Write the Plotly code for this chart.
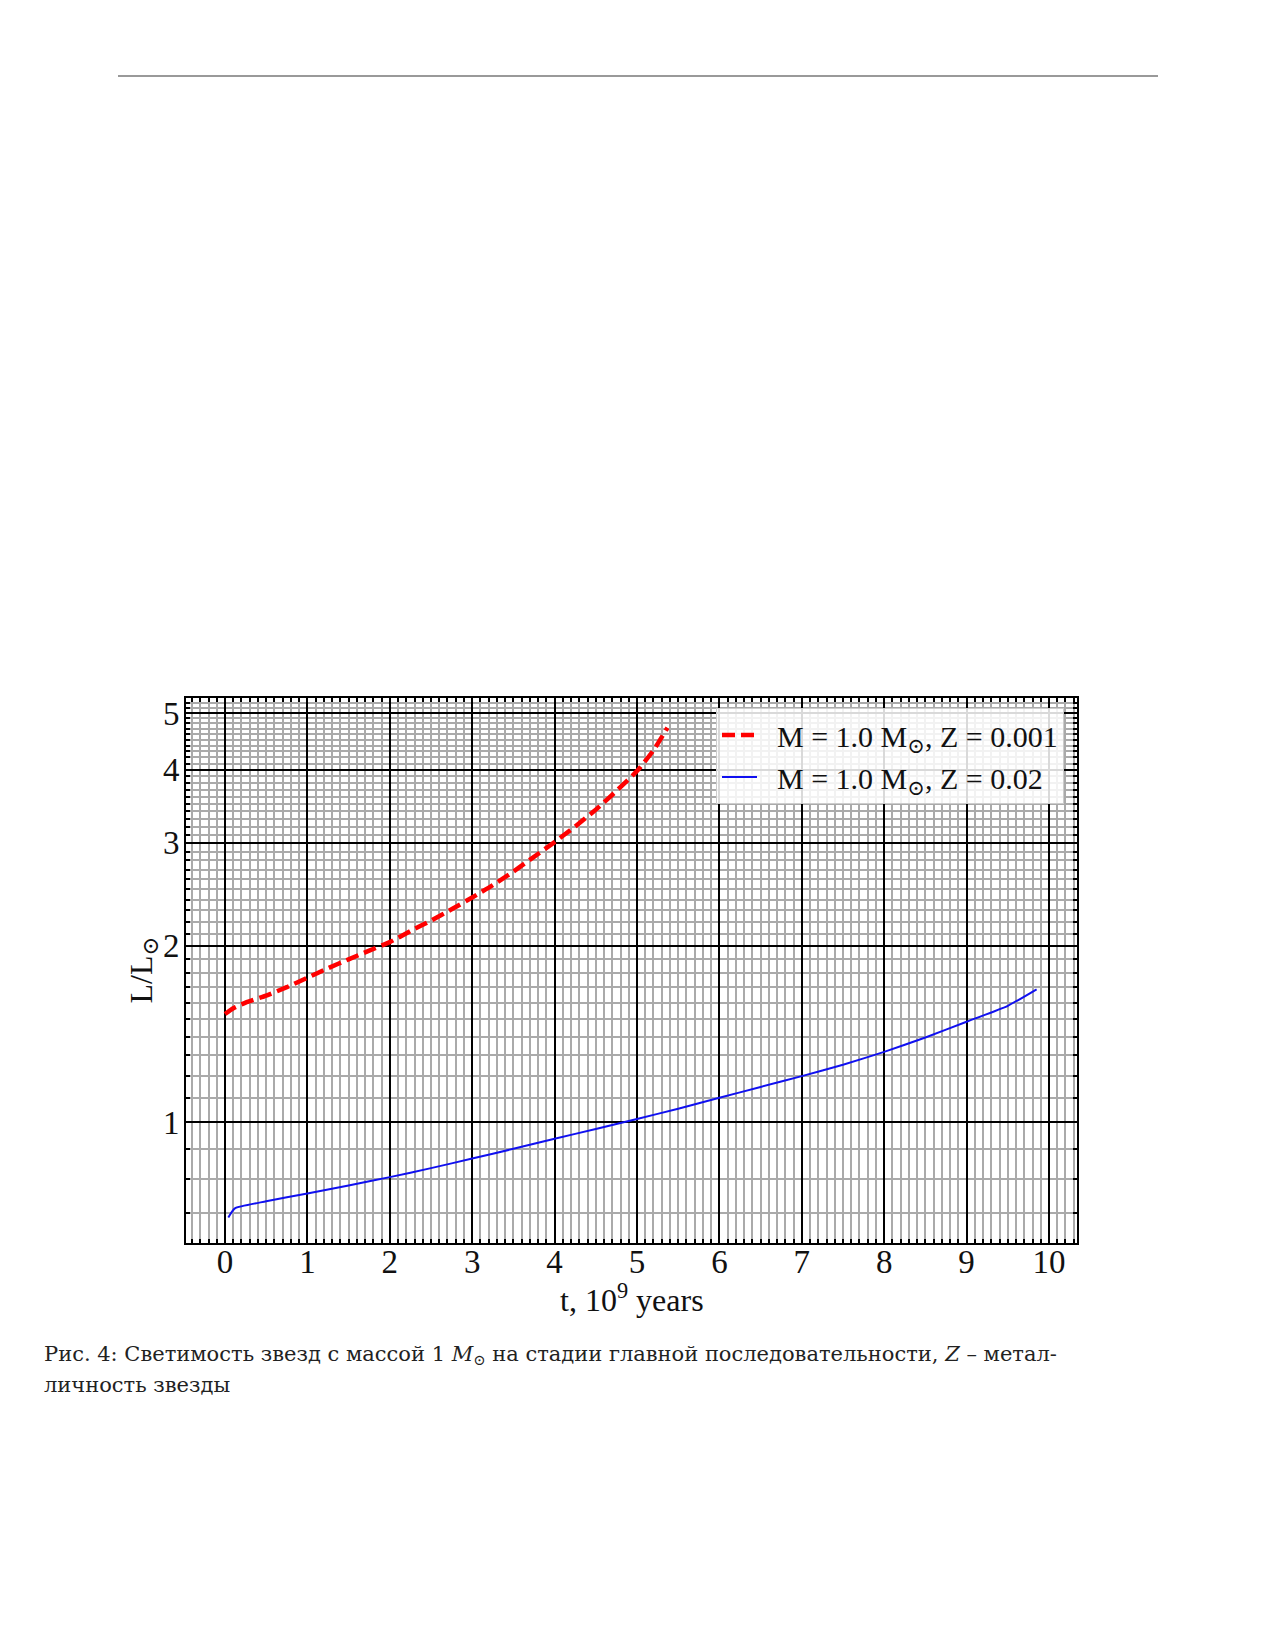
import numpy as np
import plotly.graph_objects as go

# ---- data ----
t_z001 = [0.0, 0.1, 0.25, 0.5, 0.75, 1.0, 1.25, 1.5, 1.75, 2.0, 2.25, 2.5, 2.75,
          3.0, 3.25, 3.5, 3.75, 4.0, 4.25, 4.5, 4.75, 5.0, 5.2, 5.37]
L_z001 = [1.53, 1.565, 1.60, 1.645, 1.70, 1.765, 1.832, 1.897, 1.963, 2.03, 2.12,
          2.21, 2.31, 2.42, 2.54, 2.68, 2.84, 3.01, 3.20, 3.42, 3.68, 3.98, 4.32, 4.72]

t_z02 = [0.04, 0.12, 0.5, 1.0, 1.5, 2.0, 2.5, 3.0, 3.5, 4.0, 4.5, 5.0, 5.5, 6.0,
         6.5, 7.0, 7.5, 8.0, 8.5, 9.0, 9.5, 9.85]
L_z02 = [0.687, 0.712, 0.732, 0.755, 0.779, 0.805, 0.834, 0.866, 0.900, 0.936,
         0.973, 1.012, 1.054, 1.10, 1.148, 1.198, 1.253, 1.318, 1.395, 1.484, 1.580, 1.686]

name_z001 = "\u00a0\u00a0M = 1.0 M<sub>⊙</sub>, Z = 0.001"
name_z02 = "\u00a0\u00a0M = 1.0 M<sub>⊙</sub>, Z = 0.02"

x_ticks = list(range(0, 11))
y_ticks = [1, 2, 3, 4, 5]
y_tick_text = ["1", "2", "3", "4", "5"]

x_title = "t, 10<sup>9</sup> years"
y_title = "L/L<sub>⊙</sub>"
caption_1 = ("Рис. 4: Светимость звезд с массой 1 <i>M</i><sub>⊙</sub> на стадии главной "
             "последовательности, <i>Z</i> – метал-")
caption_2 = "личность звезды"

# ---- layout geometry (page pixel coords; page body has an 8px margin) ----
BODY = 8
W, H = 1275 - 2 * BODY, 1650 - 2 * BODY
L_PX, R_PX, T_PX, B_PX = 186, 1077, 698, 1243
PH = B_PX - T_PX
PW = R_PX - L_PX

def px_x(x):
    return (x - L_PX) / PW

def px_y(y):
    return (B_PX - y) / PH

SERIF = "Liberation Serif, DejaVu Serif, serif"
CAP_FONT = "DejaVu Serif, Liberation Serif, serif"

y_minor = [v for v in np.round(np.arange(0.6, 5.35, 0.1), 2) if v not in y_ticks]

fig = go.Figure()
fig.add_trace(go.Scatter(x=t_z001, y=L_z001, mode="lines", name=name_z001,
                         line=dict(color="#ff0000", width=4.5, dash="13px,6px",
                                   shape="spline", smoothing=0.5)))
fig.add_trace(go.Scatter(x=t_z02, y=L_z02, mode="lines", name=name_z02,
                         line=dict(color="#1010f0", width=2, shape="spline",
                                   smoothing=0.5)))

ml = L_PX - BODY
mt = T_PX - BODY
fig.update_layout(
    width=W, height=H,
    margin=dict(l=ml, r=W - ml - PW, t=mt, b=H - mt - PH, pad=0),
    paper_bgcolor="white", plot_bgcolor="white",
    font=dict(family=SERIF, color="#111111", size=30),
    showlegend=True,
    legend=dict(x=px_x(1064), y=px_y(708), xanchor="right", yanchor="top",
                bgcolor="rgba(255,255,255,0.85)", bordercolor="#cccccc", borderwidth=1,
                font=dict(family=SERIF, size=30, color="#111111"),
                itemwidth=35, tracegroupgap=0),
    xaxis=dict(range=[-0.4733, 10.34], tickmode="array", tickvals=x_ticks,
               ticks="inside", ticklen=7, tickwidth=1.5, tickcolor="black",
               showline=True, linecolor="black", linewidth=2, mirror="allticks",
               showgrid=True, gridcolor="black", gridwidth=1.8, zeroline=False,
               ticklabelstandoff=-12,
               tickfont=dict(family=SERIF, size=33, color="#111111"),
               minor=dict(tick0=0, dtick=0.1, showgrid=True, gridcolor="#aaaaaa",
                          gridwidth=1.8, ticks="inside", ticklen=4, tickwidth=1.5,
                          tickcolor="black")),
    yaxis=dict(type="log", range=[-0.2068, 0.7248], tickmode="array",
               tickvals=y_ticks, ticktext=y_tick_text,
               ticks="inside", ticklen=7, tickwidth=1.5, tickcolor="black",
               showline=True, linecolor="black", linewidth=2, mirror="allticks",
               showgrid=True, gridcolor="black", gridwidth=1.8, zeroline=False,
               ticklabelstandoff=-2,
               tickfont=dict(family=SERIF, size=33, color="#111111"),
               minor=dict(tickmode="array", tickvals=y_minor, showgrid=True,
                          gridcolor="#aaaaaa", gridwidth=1.8, ticks="inside",
                          ticklen=4, tickwidth=1.5, tickcolor="black")),
)

# axis titles
fig.add_annotation(text=x_title, xref="paper", yref="paper", x=0.5, y=px_y(1298),
                   xanchor="center", yanchor="middle", showarrow=False,
                   font=dict(family=SERIF, size=32, color="#111111"))
fig.add_annotation(text=y_title, xref="paper", yref="paper", x=px_x(143), y=0.5,
                   xanchor="center", yanchor="middle", showarrow=False, textangle=-90,
                   font=dict(family=SERIF, size=32, color="#111111"))

# caption
fig.add_annotation(text=caption_1, xref="paper", yref="paper", x=px_x(42), y=px_y(1355),
                   xanchor="left", yanchor="middle", showarrow=False,
                   font=dict(family=CAP_FONT, size=21, color="#222222"))
fig.add_annotation(text=caption_2, xref="paper", yref="paper", x=px_x(42), y=px_y(1385),
                   xanchor="left", yanchor="middle", showarrow=False,
                   font=dict(family=CAP_FONT, size=21, color="#222222"))

# page header rule
fig.add_shape(type="line", xref="paper", yref="paper", x0=px_x(118), x1=px_x(1158),
              y0=px_y(76), y1=px_y(76), line=dict(color="#999999", width=2))

fig.write_html("out.html")
